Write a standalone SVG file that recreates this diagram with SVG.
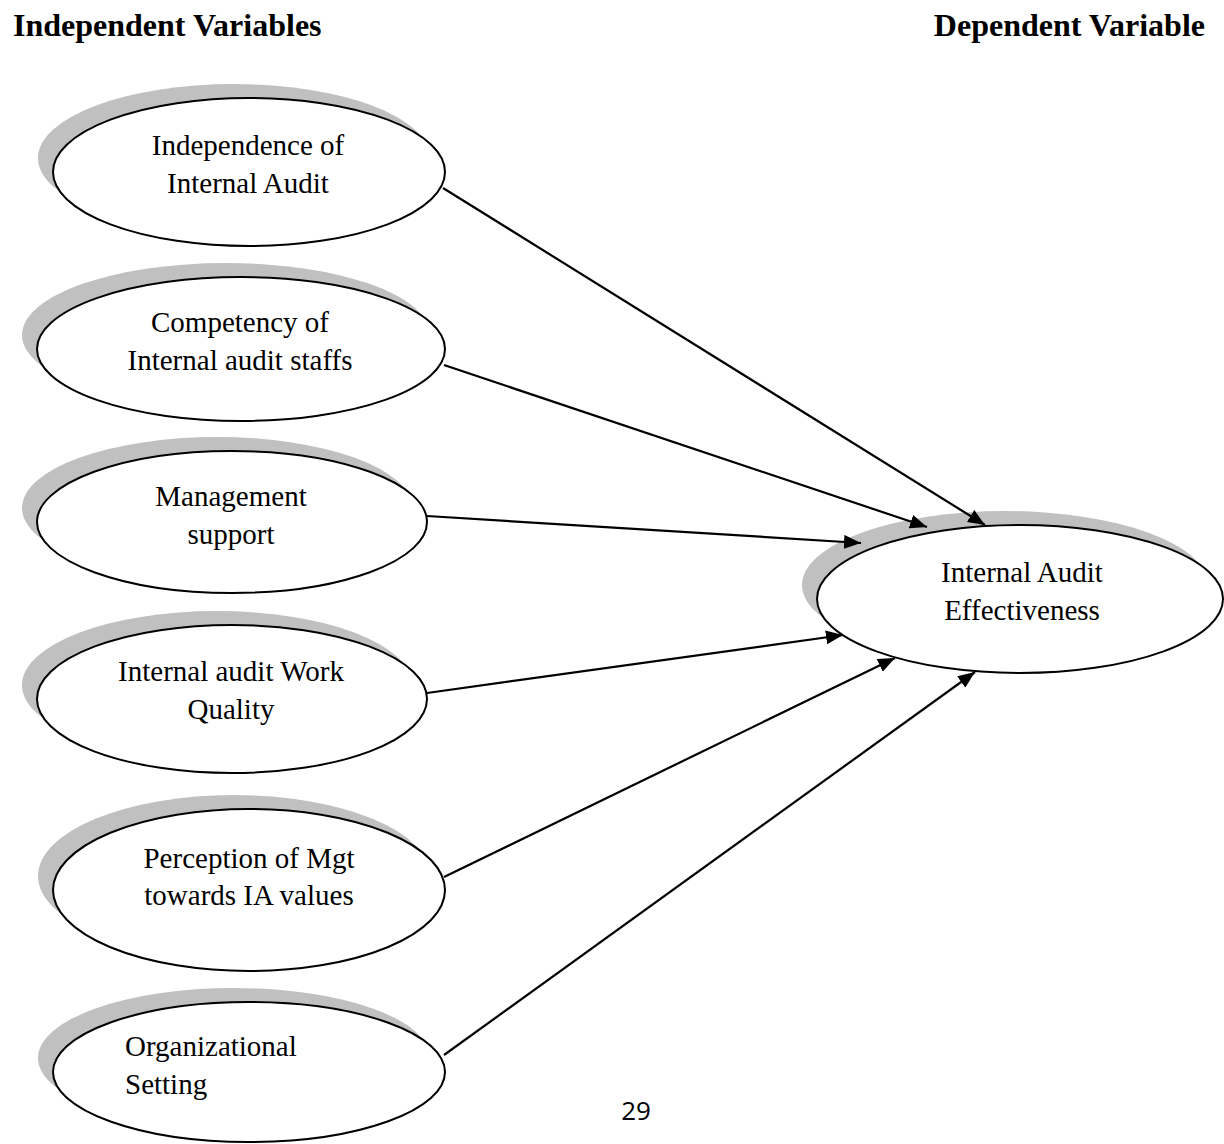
<svg xmlns="http://www.w3.org/2000/svg" width="1224" height="1144" viewBox="0 0 1224 1144">
<style>
.sh{fill:#c0c0c0;stroke:none}
.el{fill:#ffffff;stroke:#000;stroke-width:2}
.t{font-family:"Liberation Serif","Times New Roman",serif;font-size:29px;fill:#000}
.c{text-anchor:middle}
.h{font-family:"Liberation Serif","Times New Roman",serif;font-size:32px;font-weight:bold;fill:#000}
.ln{stroke:#000;stroke-width:2.2;fill:none;marker-end:url(#ah)}
</style>
<defs>
<marker id="ah" markerUnits="userSpaceOnUse" markerWidth="18" markerHeight="14" refX="17" refY="7" orient="auto">
<path d="M0,0 L17,7 L0,14 z" fill="#000"/>
</marker>
</defs>
<rect width="1224" height="1144" fill="#fff"/>
<text class="h" x="13" y="36">Independent Variables</text>
<text class="h" x="1205" y="36" text-anchor="end">Dependent Variable</text>

<g id="n1">
<ellipse class="sh" cx="234" cy="158" rx="196" ry="74"/>
<ellipse class="el" cx="249" cy="172" rx="196" ry="74"/>
<text class="t c" x="248" y="155">Independence of</text>
<text class="t c" x="248" y="193">Internal Audit</text>
</g>
<g id="n2">
<ellipse class="sh" cx="226" cy="335" rx="204" ry="72"/>
<ellipse class="el" cx="241" cy="349" rx="204" ry="72"/>
<text class="t c" x="240" y="332">Competency of</text>
<text class="t c" x="240" y="370">Internal audit staffs</text>
</g>
<g id="n3">
<ellipse class="sh" cx="217" cy="508" rx="195" ry="71"/>
<ellipse class="el" cx="232" cy="522" rx="195" ry="71"/>
<text class="t c" x="231" y="506">Management</text>
<text class="t c" x="231" y="544">support</text>
</g>
<g id="n4">
<ellipse class="sh" cx="217" cy="685" rx="195" ry="74"/>
<ellipse class="el" cx="232" cy="699" rx="195" ry="74"/>
<text class="t c" x="231" y="681">Internal audit Work</text>
<text class="t c" x="231" y="719">Quality</text>
</g>
<g id="n5">
<ellipse class="sh" cx="234" cy="876" rx="196" ry="81"/>
<ellipse class="el" cx="249" cy="890" rx="196" ry="81"/>
<text class="t c" x="249" y="868">Perception of Mgt</text>
<text class="t c" x="249" y="905">towards IA values</text>
</g>
<g id="n6">
<ellipse class="sh" cx="234" cy="1058" rx="196" ry="70"/>
<ellipse class="el" cx="249" cy="1072" rx="196" ry="70"/>
<text class="t" x="125" y="1056">Organizational</text>
<text class="t" x="125" y="1094">Setting</text>
</g>
<g id="n7">
<ellipse class="sh" cx="1005" cy="585" rx="203" ry="74"/>
<ellipse class="el" cx="1020" cy="599" rx="203" ry="74"/>
<text class="t c" x="1022" y="582">Internal Audit</text>
<text class="t c" x="1022" y="620">Effectiveness</text>
</g>

<g id="connectors">
<line class="ln" x1="443" y1="188" x2="985" y2="525"/>
<line class="ln" x1="444" y1="365" x2="927" y2="527"/>
<line class="ln" x1="427" y1="516" x2="861" y2="543"/>
<line class="ln" x1="427" y1="693" x2="843" y2="635"/>
<line class="ln" x1="444" y1="877" x2="895" y2="658"/>
<line class="ln" x1="444" y1="1055" x2="975" y2="672"/>
</g>

<text x="636" y="1120" text-anchor="middle" style="font-family:'Open Sans','Liberation Sans',sans-serif;font-size:26px;fill:#000">29</text>
</svg>
